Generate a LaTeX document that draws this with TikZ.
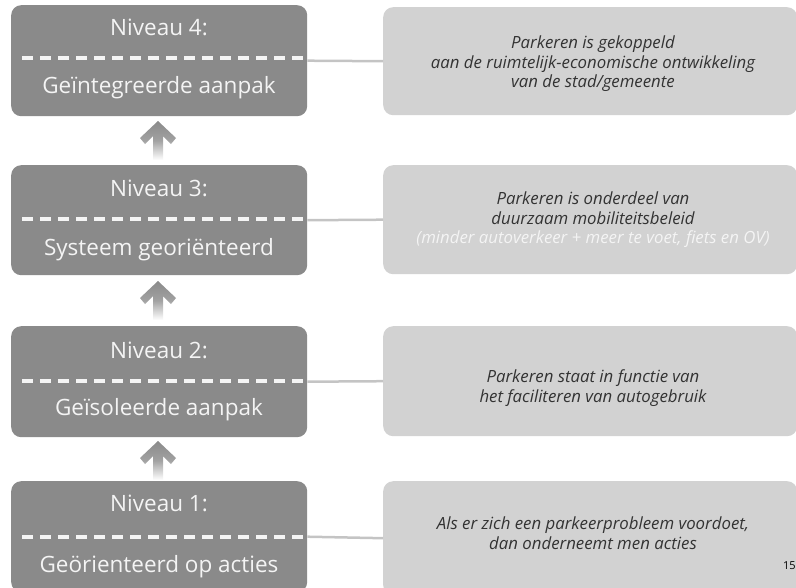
\documentclass[tikz,border=0pt]{standalone}
\usepackage{fontspec}
\setmainfont{Open Sans}
\definecolor{darkbox}{HTML}{8A8A8A}
\definecolor{lightbox}{HTML}{D2D2D2}
\definecolor{boxtext}{HTML}{F4F4F4}
\definecolor{desctext}{HTML}{333333}
\definecolor{linkcol}{HTML}{C4C4C4}
\begin{document}
\begin{tikzpicture}[x=1pt,y=-1pt,
  lvlbox/.style={draw=none, fill=darkbox, rounded corners=10pt, minimum width=296pt, inner sep=0pt, anchor=north west},
  descbox/.style={draw=none, fill=lightbox, rounded corners=10pt, minimum width=414pt, inner sep=0pt, anchor=north west},
  lvltext/.style={text=boxtext, font=\fontsize{22.5}{26}\selectfont, inner sep=0pt},
  desctxt/.style={text=desctext, font=\fontsize{16.8}{19.5}\selectfont\itshape, align=center, inner sep=0pt},
  sepline/.style={draw=boxtext, line width=4pt, dash pattern=on 11pt off 7pt},
  link/.style={draw=linkcol, line width=2.5pt},
  uparrow/.style={top color=darkbox, bottom color=white, middle color=darkbox!80, draw=none}
]
\useasboundingbox (0,0) rectangle (796,587);
\clip (0,0) rectangle (796,587);

% level boxes
\node[lvlbox, minimum height=111pt] (l4) at (11,5) {};
\node[lvlbox, minimum height=110pt] (l3) at (11,165) {};
\node[lvlbox, minimum height=111pt] (l2) at (11,326) {};
\node[lvlbox, minimum height=111pt] (l1) at (11,481) {};

% description boxes
\node[descbox, minimum height=108pt] (r4) at (383,7) {};
\node[descbox, minimum height=109pt] (r3) at (383,165) {};
\node[descbox, minimum height=110pt] (r2) at (383,326) {};
\node[descbox, minimum height=114pt] (r1) at (383,481) {};

% connectors
\foreach \n in {1,2,3,4} \draw[link] (l\n.east) -- (r\n.west);

% dashed separators
\draw[sepline] (22,58) -- (303,58);
\draw[sepline] (22,219) -- (303,219);
\draw[sepline] (22,381) -- (303,381);
\draw[sepline] (22,537) -- (303,537);

% level texts
\node[lvltext] (l4a) at (159,27) {Niveau 4:};
\node[lvltext] (l4b) at (159,88) {Geïntegreerde aanpak};
\node[lvltext] (l3a) at (159,188) {Niveau 3:};
\node[lvltext] (l3b) at (159,250) {Systeem georiënteerd};
\node[lvltext] (l2a) at (159,350) {Niveau 2:};
\node[lvltext] (l2b) at (159,410) {Geïsoleerde aanpak};
\node[lvltext] (l1a) at (159,503) {Niveau 1:};
\node[lvltext] (l1b) at (159,567) {Geörienteerd op acties};

% description texts
\node[desctxt] (d4) at (593,64) {Parkeren is gekoppeld\\aan de ruimtelijk-economische ontwikkeling\\van de stad/gemeente};
\node[desctxt] (d3) at (593,220) {Parkeren is onderdeel van\\duurzaam mobiliteitsbeleid\\\textcolor{boxtext}{(minder autoverkeer + meer te voet, fiets en OV)}};
\node[desctxt] (d2) at (593,388) {Parkeren staat in functie van\\het faciliteren van autogebruik};
\node[desctxt] (d1) at (593,533) {Als er zich een parkeerprobleem voordoet,\\dan onderneemt men acties};

% page number
\node[anchor=west, inner sep=0pt, font=\fontsize{11}{13}\selectfont, text=black] (pg) at (783,566) {15};

% upward arrows between levels
\foreach \t in {121,281,441}{
  \shade[uparrow, shift={(158,\t)}]
    (0,0) -- (18,17) -- (13,23) -- (5,15) -- (5,39) -- (-5,39) -- (-5,15) -- (-13,23) -- (-18,17) -- cycle;
}
\end{tikzpicture}
\end{document}
